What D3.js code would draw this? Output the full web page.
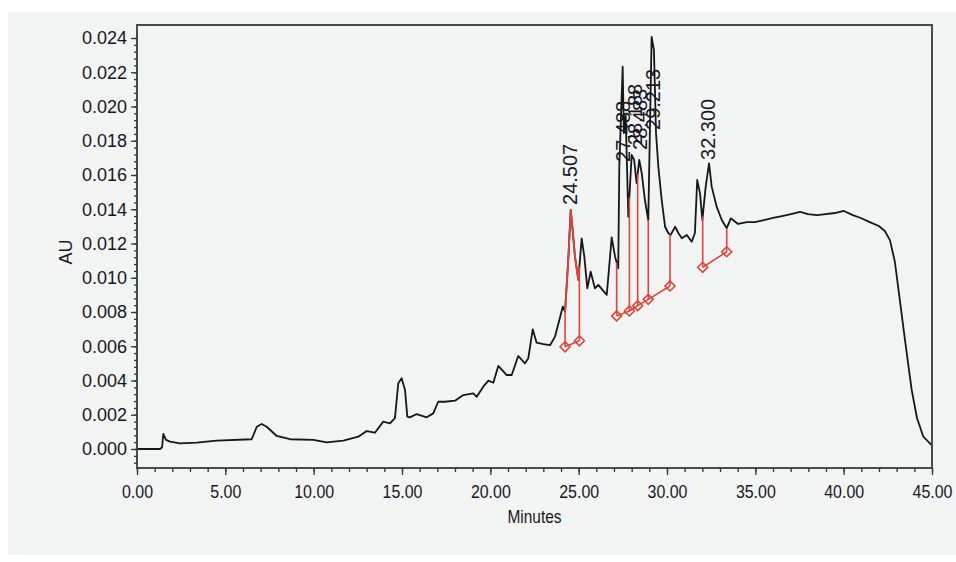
<!DOCTYPE html>
<html>
<head>
<meta charset="utf-8">
<script src="https://cdn.jsdelivr.net/npm/d3@7"></script>
<style>
	body { margin: 0; background: #ffffff; }
	svg { display: block; }
	.tick text { font-family: "Liberation Sans", Arial, sans-serif; fill: #16161f; }
</style>
</head>
<body>
<svg id="chart" width="956" height="562"></svg>
<script>
// retention time (minutes) and absorbance (AU)
var times = [0, 1.30, 1.42, 1.49, 1.64, 1.87, 2.43, 3.38, 4.51, 6.49, 6.78, 7.06, 7.34, 7.91, 8.66, 9.98,
	10.74, 11.68, 12.53, 13.0, 13.47, 13.94, 14.32, 14.60, 14.79, 14.98, 15.17, 15.30, 15.45, 15.83, 16.40,
	16.77, 17.05, 17.43, 18.0, 18.47, 19.04, 19.23, 19.60, 19.89, 20.17, 20.45, 20.93, 21.21, 21.58, 21.96,
	22.15, 22.40, 22.62, 23.0, 23.38, 23.66, 24.10, 24.23, 24.41, 24.55, 24.66, 24.79, 24.98, 25.17, 25.32,
	25.49, 25.68, 25.92, 26.11, 26.59, 26.87, 27.06, 27.24, 27.30, 27.49, 27.56, 27.66, 27.81, 28.00, 28.14,
	28.28, 28.43, 28.57, 28.75, 28.94, 29.13, 29.26, 29.38, 29.51, 29.70, 29.89, 30.08, 30.21, 30.46, 30.65,
	30.84, 31.12, 31.40, 31.58, 31.71, 31.87, 32.00, 32.19, 32.38, 32.53, 32.81, 33.10, 33.38, 33.61, 34.02,
	34.53, 34.98, 35.49, 36.0, 36.51, 37.02, 37.53, 37.98, 38.49, 38.99, 39.50, 40.01, 40.52, 40.97, 41.48,
	41.99, 42.33, 42.62, 42.90, 43.18, 43.47, 43.85, 44.15, 44.51, 44.98];
var absorbance = [0, 0, 0.0001, 0.00088, 0.00053, 0.00043, 0.00033, 0.00037, 0.00049, 0.00057, 0.0013, 0.00146,
	0.0013, 0.00076, 0.00057, 0.00053, 0.00039, 0.00049, 0.00072, 0.00105, 0.00095, 0.0016, 0.0015, 0.0018,
	0.00384, 0.00413, 0.00345, 0.00189, 0.00185, 0.00204, 0.00185, 0.00208, 0.00276, 0.00276, 0.00282, 0.00315,
	0.00325, 0.00305, 0.00364, 0.00399, 0.00387, 0.00485, 0.00432, 0.00432, 0.00543, 0.0050, 0.0053, 0.00699,
	0.00621, 0.00613, 0.00606, 0.00656, 0.00831, 0.00802, 0.01104, 0.01396, 0.01279, 0.01123, 0.00987, 0.0123,
	0.01123, 0.00938, 0.01035, 0.00938, 0.00958, 0.0090, 0.01236, 0.01123, 0.01055, 0.01648, 0.02232, 0.01845,
	0.0195, 0.01357, 0.01717, 0.01688, 0.01552, 0.01688, 0.0161, 0.01454, 0.01337, 0.02407, 0.0233, 0.01843,
	0.01648, 0.01454, 0.01298, 0.0126, 0.0125, 0.01298, 0.0126, 0.0123, 0.0125, 0.0121, 0.01261, 0.01571,
	0.01493, 0.01337, 0.01532, 0.01668, 0.01532, 0.01415, 0.01337, 0.01289, 0.01347, 0.01314, 0.01325, 0.01325,
	0.01337, 0.01349, 0.0136, 0.01372, 0.01384, 0.01372, 0.01366, 0.01372, 0.01378, 0.0139, 0.01366, 0.01349,
	0.01325, 0.01302, 0.01273, 0.0122, 0.01092, 0.0087, 0.00637, 0.00345, 0.00181, 0.00072, 0.00023];

// integration baseline points (start / end of each peak)
var baseTimes = [24.23, 25.04, 27.15, 27.87, 28.34, 28.94, 30.17, 32.02, 33.38];
var baseAU = [0.00597, 0.00632, 0.00777, 0.00806, 0.00837, 0.00874, 0.00952, 0.01061, 0.01152];
var baseGroups = [[0, 1], [2, 3, 4, 5, 6], [7, 8]];

// peak labels: retention time and the level where the label starts
var peakTimes = [24.507, 27.488, 28.188, 28.483, 29.213, 32.300];
var peakLabelAU = [0.01425, 0.01676, 0.01775, 0.01746, 0.01863, 0.01688];

var xTicks = [0, 5, 10, 15, 20, 25, 30, 35, 40, 45];
var yTicks = [0, 0.002, 0.004, 0.006, 0.008, 0.010, 0.012, 0.014, 0.016, 0.018, 0.020, 0.022, 0.024];

var traceColor = "#161616";
var peakColor = "#e2443c";
var textColor = "#16161f";

var svg = d3.select("#chart");
var frameTop = 25, frameBottom = 468;

var x = d3.scaleLinear().domain([0, 45]).range([137, 932]);
var y = d3.scaleLinear().domain([0, 0.024]).range([449, 38]);

// grey panel
svg.append("rect")
	.attr("x", 8)
	.attr("y", 12)
	.attr("width", 948)
	.attr("height", 543)
	.attr("fill", "#f2f4f4");

svg.append("clipPath")
	.attr("id", "plotClip")
	.append("rect")
		.attr("x", x(0))
		.attr("y", frameTop)
		.attr("width", x(45) - x(0))
		.attr("height", frameBottom - frameTop);

function auAt(t)
{
	var i = d3.bisectLeft(times, t);
	if(i <= 0) return absorbance[0];
	if(i >= times.length) return absorbance[times.length - 1];
	var t0 = times[i - 1], t1 = times[i];
	return absorbance[i - 1] + (absorbance[i] - absorbance[i - 1]) * (t - t0) / (t1 - t0);
}

var trace = times.map(function(t, i) { return [t, absorbance[i]]; });
var line = d3.line()
	.x(function(d) { return x(d[0]); })
	.y(function(d) { return y(d[1]); });

var plot = svg.append("g").attr("clip-path", "url(#plotClip)");

plot.append("path")
	.attr("d", line(trace))
	.attr("fill", "none")
	.attr("stroke", traceColor)
	.attr("stroke-width", 1.8)
	.attr("stroke-linejoin", "round");

// first peak is drawn in red between its start and end
var t0 = baseTimes[0], t1 = baseTimes[1];
var redPart = [[t0, auAt(t0)]].concat(trace.filter(function(d) { return d[0] > t0 && d[0] < t1; }), [[t1, auAt(t1)]]);
plot.append("path")
	.attr("d", line(redPart))
	.attr("fill", "none")
	.attr("stroke", peakColor)
	.attr("stroke-width", 1.8)
	.attr("stroke-linejoin", "round");

// drop lines
baseTimes.forEach(function(t, i)
{
	plot.append("line")
		.attr("x1", x(t))
		.attr("x2", x(t))
		.attr("y1", y(baseAU[i]))
		.attr("y2", y(auAt(t)))
		.attr("stroke", peakColor)
		.attr("stroke-width", 1.6);
});

// baselines
baseGroups.forEach(function(g)
{
	plot.append("path")
		.attr("d", line(g.map(function(i) { return [baseTimes[i], baseAU[i]]; })))
		.attr("fill", "none")
		.attr("stroke", peakColor)
		.attr("stroke-width", 1.6);
});

// diamonds
baseTimes.forEach(function(t, i)
{
	var cx = x(t), cy = y(baseAU[i]), r = 5;
	svg.append("path")
		.attr("d", "M" + cx + "," + (cy - r) + "L" + (cx + r) + "," + cy + "L" + cx + "," + (cy + r) + "L" + (cx - r) + "," + cy + "Z")
		.attr("fill", "none")
		.attr("stroke", peakColor)
		.attr("stroke-width", 1.6);
});

// peak labels
peakTimes.forEach(function(t, i)
{
	var px = x(t), py = y(peakLabelAU[i]);
	svg.append("text")
		.attr("transform", "translate(" + px + "," + py + ") rotate(-90)")
		.attr("dy", "0.36em")
		.attr("font-family", "'Liberation Sans', Arial, sans-serif")
		.attr("font-size", 20)
		.attr("fill", textColor)
		.text(d3.format(".3f")(t));
});

// frame
svg.append("rect")
	.attr("x", x(0))
	.attr("y", frameTop)
	.attr("width", x(45) - x(0))
	.attr("height", frameBottom - frameTop)
	.attr("fill", "none")
	.attr("stroke", "#4a4a4a")
	.attr("stroke-width", 2);

// y axis
var yAxis = svg.append("g")
	.attr("transform", "translate(" + x(0) + ",0)")
	.call(d3.axisLeft(y).tickValues(yTicks).tickFormat(d3.format(".3f")).tickSize(6).tickPadding(4));
var yMinor = d3.range(-2, 61).map(function(k) { return k * 0.0004; });
svg.append("g")
	.attr("transform", "translate(" + x(0) + ",0)")
	.call(d3.axisLeft(y).tickValues(yMinor).tickFormat("").tickSize(3));

// x axis
var xAxis = svg.append("g")
	.attr("transform", "translate(0," + frameBottom + ")")
	.call(d3.axisBottom(x).tickValues(xTicks).tickFormat(d3.format(".2f")).tickSize(7).tickPadding(10));
svg.append("g")
	.attr("transform", "translate(0," + frameBottom + ")")
	.call(d3.axisBottom(x).tickValues(d3.range(0, 46)).tickFormat("").tickSize(4));

svg.selectAll(".domain").remove();
svg.selectAll(".tick line").attr("stroke", "#333").attr("stroke-width", 1.3);
yAxis.selectAll(".tick text").attr("font-size", 18);
xAxis.selectAll(".tick text")
	.attr("font-size", 19)
	.attr("transform", "scale(0.84,1)");

// axis titles
svg.append("text")
	.attr("x", x(22.5))
	.attr("y", 523)
	.attr("text-anchor", "middle")
	.attr("font-family", "'Liberation Sans', Arial, sans-serif")
	.attr("font-size", 18)
	.attr("fill", textColor)
	.attr("transform", "translate(" + (x(22.5) * 0.14) + ",0) scale(0.86,1)")
	.text("Minutes");

svg.append("text")
	.attr("transform", "translate(72," + y(0.0115) + ") rotate(-90)")
	.attr("text-anchor", "middle")
	.attr("font-family", "'Liberation Sans', Arial, sans-serif")
	.attr("font-size", 18)
	.attr("fill", textColor)
	.text("AU");
</script>
</body>
</html>
